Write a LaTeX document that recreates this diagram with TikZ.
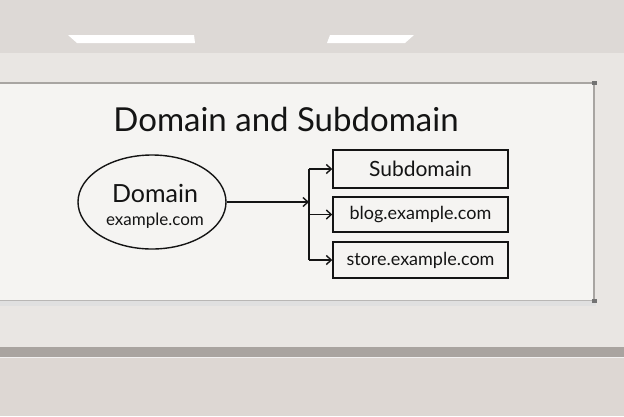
\documentclass[tikz,border=0pt]{standalone}
\usepackage{fontspec}
\setmainfont{Lato}
\usetikzlibrary{shapes.geometric, arrows, arrows.meta, positioning}
\definecolor{ceiling}{HTML}{DDD9D6}
\definecolor{wall}{HTML}{E9E6E3}
\definecolor{lowwall}{HTML}{DDD7D3}
\definecolor{board}{HTML}{F5F4F2}
\definecolor{frame}{HTML}{A8A5A2}
\definecolor{rail}{HTML}{A9A4A0}
\definecolor{ink}{HTML}{141414}
\tikzset{
	block/.style={draw=ink, line width=1.4pt, minimum width=175pt, minimum height=36pt, text=ink, font=\fontsize{18}{21}\selectfont},
	bubble/.style={draw=ink, ellipse, line width=1.4pt, minimum width=148pt, minimum height=94pt},
	link/.style={-{Straight Barb[length=5pt, width=9pt]}, draw=ink, line width=1.4pt}
}

\begin{document}
\begin{tikzpicture}[x=1pt, y=-1pt]
		\useasboundingbox (0,0) rectangle (624,416);
		\fill[wall] (0,0) rectangle (624,416);
		\fill[ceiling] (0,0) rectangle (624,53);
		\fill[white] (68,35) -- (194,35) -- (195,43) -- (77,43) -- cycle;
		\fill[white] (330,35) -- (414,35) -- (405,43) -- (327,43) -- cycle;
		\fill[rail] (0,347) rectangle (624,357);
		\fill[lowwall] (0,357) rectangle (624,416);
		\draw[white!85!rail, line width=1pt] (0,357.5) -- (624,357.5);
		
		\fill[black!12] (0,300) rectangle (596,306);
		\fill[board] (0,83) rectangle (594,301);
		\draw[frame, line width=1.3pt] (0,83) -- (594,83);
		\draw[frame!80, line width=1.2pt] (0,300.5) -- (594,300.5);
		\draw[frame, line width=2.5pt] (594,82) -- (594,302);
		\fill[black!55] (592,81) rectangle (597,85);
		\fill[black!55] (592,299) rectangle (597,303);
		
		\node[text=ink, font=\fontsize{33}{38}\selectfont] (title) at (286,119) {Domain and Subdomain};
		
		\node[bubble] (domain) at (152,202) {};
		\node[text=ink, font=\fontsize{25}{30}\selectfont] (domainname) at (155,193) {Domain};
		\node[text=ink, font=\fontsize{17}{20}\selectfont] (domainurl) at (155,221) {example.com};
		\coordinate (fork) at (309,202);
		
		\node[block, minimum height=38pt, font=\fontsize{21}{24}\selectfont] (sub) at (420.5,169) {Subdomain};
		\node[block, minimum height=35pt] (blog) at (420.5,214.5) {blog.example.com};
		\node[block] (store) at (420.5,260) {store.example.com};
		
		\draw[link] (domain) -- (fork);
		\draw[ink, line width=1.4pt] (fork |- sub) -- (fork |- store);
		\draw[link] (fork |- sub) -- (sub);
		\draw[link] (fork |- blog) -- (blog);
		\draw[link] (fork |- store) -- (store);
	\end{tikzpicture}
\end{document}
